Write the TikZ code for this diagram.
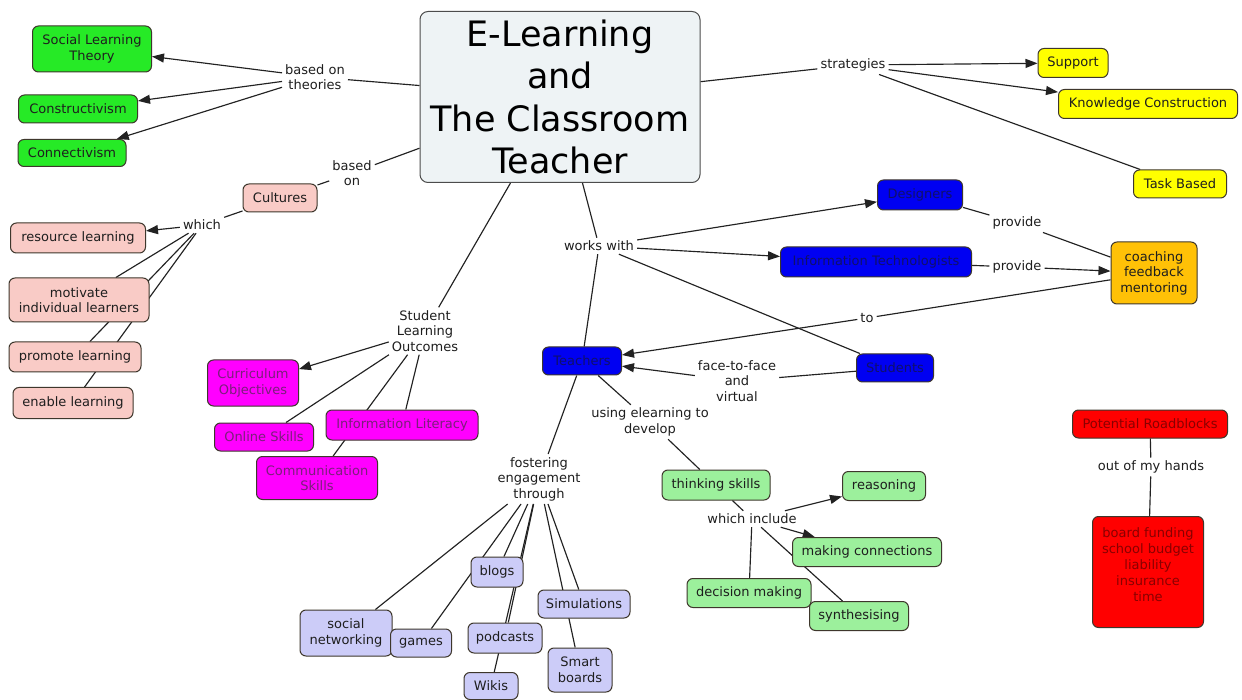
\documentclass[tikz,border=0pt]{standalone}
\usepackage{fontspec}
\setmainfont{DejaVu Sans}
\usetikzlibrary{arrows.meta,backgrounds}

\definecolor{bordc}{HTML}{3E372C}
\definecolor{linec}{HTML}{222222}
\definecolor{txtc}{HTML}{1E1E1E}
\definecolor{titlec}{HTML}{EEF3F5}
\definecolor{greenc}{HTML}{26EA26}
\definecolor{lgreenc}{HTML}{9CF09C}
\definecolor{pinkc}{HTML}{F9CBC6}
\definecolor{magc}{HTML}{FF00FF}
\definecolor{magtxt}{HTML}{7A1F7A}
\definecolor{bluec}{HTML}{0000F2}
\definecolor{bluetxt}{HTML}{10106A}
\definecolor{redc}{HTML}{FF0000}
\definecolor{redtxt}{HTML}{880000}
\definecolor{yellowc}{HTML}{FFFF00}
\definecolor{orangec}{HTML}{FFC107}
\definecolor{lavc}{HTML}{CCCCF8}

\tikzset{
  base/.style={draw=bordc, line width=1pt, rounded corners=6pt, inner sep=2pt,
    align=center, font=\fontsize{13}{15.5}\selectfont, text=txtc},
  titlebox/.style={base, fill=titlec, draw=gray!60!black, rounded corners=8pt,
    font=\fontsize{35}{42.5}\selectfont, text=black},
  gbox/.style={base, fill=greenc},
  lgbox/.style={base, fill=lgreenc},
  pbox/.style={base, fill=pinkc},
  mbox/.style={base, fill=magc, text=magtxt},
  bbox/.style={base, fill=bluec, text=bluetxt},
  rbox/.style={base, fill=redc, text=redtxt},
  ybox/.style={base, fill=yellowc},
  obox/.style={base, fill=orangec},
  vbox/.style={base, fill=lavc},
  lbl/.style={inner sep=3pt, align=center, font=\fontsize{13}{15.5}\selectfont, text=txtc},
  conn/.style={draw=linec, line width=1.15pt},
  arr/.style={conn, -{Triangle[length=12pt,width=9pt]}}
}

\begin{document}
\begin{tikzpicture}[x=1pt,y=-1pt]
\useasboundingbox (0,0) rectangle (1242,700);

% central topic
\node[titlebox, minimum width=280pt, minimum height=171pt] (title) at (560,97)
  {E-Learning\\and\\The Classroom\\Teacher};

% theories
\node[gbox, minimum width=119pt, minimum height=46pt] (sl) at (92,49) {Social Learning\\Theory};
\node[gbox, minimum width=119pt, minimum height=28pt] (cons) at (78,109) {Constructivism};
\node[gbox, minimum width=108pt, minimum height=27pt] (connv) at (72,153) {Connectivism};

% cultures
\node[pbox, minimum width=74pt, minimum height=28pt] (cult) at (280,198) {Cultures};
\node[pbox, minimum width=135pt, minimum height=30pt] (res) at (78,238) {resource learning};
\node[pbox, minimum width=140pt, minimum height=44pt] (mot) at (79,300) {motivate\\individual learners};
\node[pbox, minimum width=132pt, minimum height=30pt] (prom) at (75,357) {promote learning};
\node[pbox, minimum width=120pt, minimum height=31pt] (enab) at (73,403) {enable learning};

% learning outcomes
\node[mbox, minimum width=91pt, minimum height=46pt] (curr) at (253,383) {Curriculum\\Objectives};
\node[mbox, minimum width=99pt, minimum height=28pt] (onl) at (264,437) {Online Skills};
\node[mbox, minimum width=152pt, minimum height=30pt] (info) at (402,425) {Information Literacy};
\node[mbox, minimum width=121pt, minimum height=43pt] (comm) at (317,478) {Communication\\Skills};

% people
\node[bbox, minimum width=85pt, minimum height=30pt] (des) at (920,195) {Designers};
\node[bbox, minimum width=191pt, minimum height=30pt] (itech) at (876,262) {Information Technologists};
\node[bbox, minimum width=79pt, minimum height=28pt] (teach) at (582,361) {Teachers};
\node[bbox, minimum width=77pt, minimum height=28pt] (stud) at (895,368) {Students};
\node[obox, minimum width=86pt, minimum height=62pt] (coach) at (1154,273) {coaching\\feedback\\mentoring};

% strategies
\node[ybox, minimum width=70pt, minimum height=29pt] (sup) at (1073,63) {Support};
\node[ybox, minimum width=179pt, minimum height=29pt] (kc) at (1148,104) {Knowledge Construction};
\node[ybox, minimum width=93pt, minimum height=28pt] (tb) at (1180,184) {Task Based};

% roadblocks
\node[rbox, minimum width=155pt, minimum height=28pt] (pr) at (1150,424) {Potential Roadblocks};
\node[rbox, minimum width=111pt, minimum height=111pt, font=\fontsize{13}{16}\selectfont] (bf) at (1148,572)
  {board funding\\school budget\\liability\\insurance\\time\\[-2pt]\mbox{}};

% thinking skills
\node[lgbox, minimum width=108pt, minimum height=30pt] (ts) at (716,485) {thinking skills};
\node[lgbox, minimum width=83pt, minimum height=29pt] (reas) at (884,486) {reasoning};
\node[lgbox, minimum width=149pt, minimum height=29pt] (mc) at (867,552) {making connections};
\node[lgbox, minimum width=124pt, minimum height=29pt] (dm) at (749,593) {decision making};
\node[lgbox, minimum width=99pt, minimum height=29pt] (syn) at (859,616) {synthesising};

% engagement tools
\node[vbox, minimum width=92pt, minimum height=46pt] (sn) at (346,633) {social\\networking};
\node[vbox, minimum width=61pt, minimum height=28pt] (games) at (421,643) {games};
\node[vbox, minimum width=52pt, minimum height=30pt] (blogs) at (497,572) {blogs};
\node[vbox, minimum width=92pt, minimum height=28pt] (sim) at (584,604) {Simulations};
\node[vbox, minimum width=74pt, minimum height=30pt] (pod) at (505,638) {podcasts};
\node[vbox, minimum width=64pt, minimum height=44pt] (smart) at (580,670) {Smart\\boards};
\node[vbox, minimum width=54pt, minimum height=27pt] (wikis) at (491,686) {Wikis};

% linking phrases
\node[lbl] (lth) at (315,77) {based on\\theories};
\node[lbl] (lbo) at (352,173) {based\\on};
\node[lbl] (lwh) at (202,225) {which};
\node[lbl] (lslo) at (425,331) {Student\\Learning\\Outcomes};
\node[lbl] (lww) at (599,246) {works with};
\node[lbl] (lst) at (853,65) {strategies};
\node[lbl] (lpr1) at (1017,223) {provide};
\node[lbl] (lpr2) at (1017,267) {provide};
\node[lbl] (lto) at (867,318) {to};
\node[lbl] (lff) at (737,381) {face-to-face\\and\\virtual};
\node[lbl] (lue) at (650,422) {using elearning to\\develop};
\node[lbl] (lfe) at (539,479) {fostering\\engagement\\through};
\node[lbl] (lwi) at (752,519) {which include};
\node[lbl] (loh) at (1151,467) {out of my hands};

\begin{scope}[on background layer]
  \fill[white] (0,0) rectangle (1242,700);
  % theories
  \draw[conn] (title) -- (lth);
  \draw[arr] (lth) -- (sl);
  \draw[arr] (lth) -- (cons);
  \draw[arr] (lth) -- (connv);
  % cultures
  \draw[conn] (title) -- (lbo);
  \draw[conn] (lbo) -- (cult);
  \draw[conn] (cult) -- (lwh);
  \draw[arr] (lwh) -- (res);
  \draw[conn] (lwh) -- (mot);
  \draw[conn] (lwh) -- (prom);
  \draw[conn] (lwh) -- (enab);
  % outcomes
  \draw[conn] (title) -- (lslo);
  \draw[arr] (lslo) -- (curr);
  \draw[conn] (lslo) -- (onl);
  \draw[conn] (lslo) -- (info);
  \draw[conn] (lslo) -- (comm);
  % strategies
  \draw[conn] (title) -- (lst);
  \draw[arr] (lst) -- (sup);
  \draw[arr] (lst) -- (kc);
  \draw[conn] (lst) -- (tb);
  % people
  \draw[conn] (title) -- (lww);
  \draw[arr] (lww) -- (des);
  \draw[arr] (lww) -- (itech);
  \draw[conn] (lww) -- (stud);
  \draw[conn] (lww) -- (teach);
  \draw[conn] (des) -- (lpr1);
  \draw[conn] (lpr1) -- (coach);
  \draw[conn] (itech) -- (lpr2);
  \draw[arr] (lpr2) -- (coach);
  \draw[conn] (coach) -- (lto);
  \draw[arr] (lto) -- (teach);
  \draw[conn] (stud) -- (lff);
  \draw[arr] (lff) -- (teach);
  % thinking skills
  \draw[conn] (teach) -- (lue);
  \draw[conn] (lue) -- (ts);
  \draw[conn] (ts) -- (lwi);
  \draw[arr] (lwi) -- (reas);
  \draw[arr] (lwi) -- (mc);
  \draw[conn] (lwi) -- (dm);
  \draw[conn] (lwi) -- (syn);
  % engagement
  \draw[conn] (teach) -- (lfe);
  \draw[conn] (lfe) -- (sn);
  \draw[conn] (lfe) -- (games);
  \draw[conn] (lfe) -- (blogs);
  \draw[conn] (lfe) -- (pod);
  \draw[conn] (lfe) -- (wikis);
  \draw[conn] (lfe) -- (sim);
  \draw[conn] (lfe) -- (smart);
  % roadblocks
  \draw[conn] (pr) -- (loh);
  \draw[conn] (loh) -- (bf);
\end{scope}
\end{tikzpicture}
\end{document}
